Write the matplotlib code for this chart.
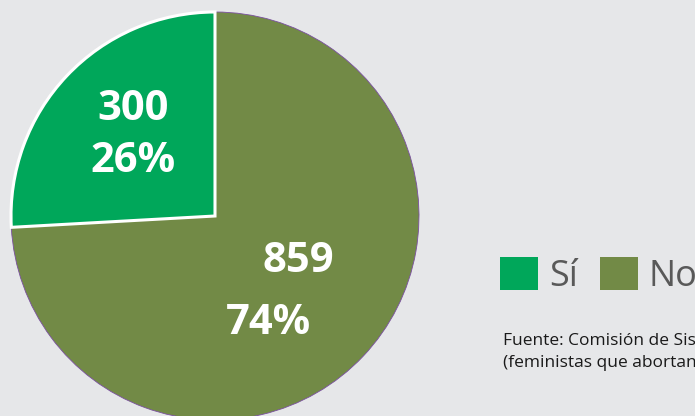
import matplotlib
matplotlib.use("Agg")
import matplotlib.pyplot as plt
from matplotlib.patches import Patch

categories = ["Sí", "No"]
values = [300, 859]
percent_labels = ["26%", "74%"]
colors = ["#00a75a", "#728a46"]
source_lines = ["Fuente: Comisión de Sistematización de Casos",
                "(feministas que abortan)"]

W, H = 695, 416
fig = plt.figure(figsize=(W / 100, H / 100), dpi=100)
fig.patch.set_facecolor("#e6e7e9")
ax = fig.add_axes([0, 0, 1, 1])

cx, cy, r = 215, H - 216, 204
wedges, _ = ax.pie(values, colors=colors, startangle=90, counterclock=True,
                   center=(cx, cy), radius=r, frame=True)
ax.set_xlim(0, W)
ax.set_ylim(0, H)
ax.set_aspect("equal")
ax.axis("off")
wedges[0].set_edgecolor("white")
wedges[0].set_linewidth(2.2)
wedges[0].set_zorder(3)
wedges[1].set_edgecolor("#7a4fa0")
wedges[1].set_linewidth(0.6)
wedges[1].set_zorder(2)

fp = dict(family=["Open Sans", "DejaVu Sans"], fontweight="bold", color="white",
          fontsize=30, ha="center", va="center", zorder=5)
ax.text(133, H - 110, str(values[0]), **fp)
ax.text(133, H - 162, percent_labels[0], **fp)
ax.text(298, H - 261, str(values[1]), **fp)
ax.text(268, H - 324, percent_labels[1], **fp)

handles = [Patch(facecolor=c, edgecolor="none") for c in colors]
leg = fig.legend(handles, categories, loc="upper left",
                 bbox_to_anchor=(500 / W, 1 - 257 / H), ncol=2, frameon=False,
                 prop=dict(family=["Open Sans", "DejaVu Sans"], size=26),
                 handlelength=1.05, handleheight=1.05, handletextpad=0.3,
                 columnspacing=0.62, borderpad=0, borderaxespad=0, labelcolor="#595959")

ax.text(503, H - 341, source_lines[0], family=["Open Sans", "DejaVu Sans"],
        fontsize=12.5, color="#1a1a1a", ha="left", va="center")
ax.text(503, H - 363, source_lines[1], family=["Open Sans", "DejaVu Sans"],
        fontsize=12.5, color="#1a1a1a", ha="left", va="center")

fig.savefig("out.png", dpi=100, facecolor=fig.get_facecolor())
